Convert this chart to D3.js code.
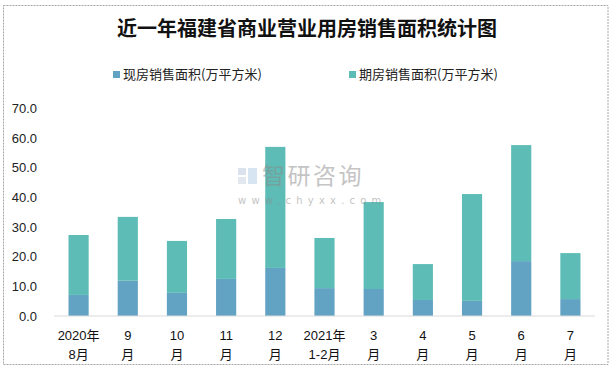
<!DOCTYPE html>
<html><head><meta charset="utf-8">
<script src="https://cdn.jsdelivr.net/npm/d3@7"></script>
<style>html,body{margin:0;padding:0;background:#fff;}svg{display:block;}</style>
</head><body>
<script>
const categories = ["2020年|8月","9|月","10|月","11|月","12|月","2021年|1-2月","3|月","4|月","5|月","6|月","7|月"];
const spotSales = [7.1, 11.9, 7.8, 12.5, 16.2, 9.4, 9.1, 5.4, 5.1, 18.5, 5.7];
const futureSales = [20.2, 21.5, 17.5, 20.2, 40.8, 16.9, 29.3, 12.1, 36.0, 39.1, 15.5];
const seriesNames = ["现房销售面积(万平方米)", "期房销售面积(万平方米)"];
const yTicks = [0, 10, 20, 30, 40, 50, 60, 70];
const title = "近一年福建省商业营业用房销售面积统计图";
const colors = ["#62A3C3", "#5DBDB6"];

const W = 614, H = 370;
const svg = d3.select("body").append("svg").attr("width", W).attr("height", H);
const font = "'Noto Sans CJK SC','Noto Sans',sans-serif";

svg.append("rect").attr("x", 3.5).attr("y", 5.5).attr("width", 604.5).attr("height", 359)
  .attr("fill", "#fff").attr("stroke", "#a6a6a6").attr("stroke-dasharray", "2,1");

svg.append("text").attr("x", 307).attr("y", 36).attr("text-anchor", "middle")
  .attr("font-family", "'Noto Sans CJK SC',serif").attr("font-weight", "bold")
  .attr("font-size", 20).attr("fill", "#111").text(title);

const x = d3.scaleBand().domain(categories).range([54, 595]).paddingInner(0.59).paddingOuter(0.295);
const y = d3.scaleLinear().domain([0, 70]).range([316, 108.3]);

const data = categories.map((c, i) => ({cat: c, spot: spotSales[i], future: futureSales[i]}));
const stack = d3.stack().keys(["spot", "future"])(data);

const g = svg.append("g");
g.selectAll("g.s").data(stack).join("g").attr("fill", (d, i) => colors[i])
  .selectAll("rect").data(d => d).join("rect")
  .attr("x", d => x(d.data.cat)).attr("width", x.bandwidth())
  .attr("y", d => y(d[1])).attr("height", d => y(d[0]) - y(d[1]));

// y axis labels
const yAxis = d3.axisLeft(y).tickValues(yTicks).tickFormat(d3.format(".1f")).tickSize(0).tickPadding(0);
const ya = svg.append("g").attr("transform", "translate(37,0)").call(yAxis);
ya.select(".domain").remove();
ya.selectAll("text").attr("font-family", "'Liberation Sans',Arial,sans-serif").attr("font-size", 13).attr("fill", "#222");

// x axis
svg.append("line").attr("x1", 54).attr("x2", 595).attr("y1", y(0)).attr("y2", y(0))
  .attr("stroke", "#d9d9d9").attr("stroke-width", 1);
const xa = svg.append("g");
categories.forEach(c => {
  const parts = c.split("|");
  const t = xa.append("text").attr("x", x(c) + x.bandwidth() / 2).attr("text-anchor", "middle")
    .attr("font-family", "'Liberation Sans',Arial,'Noto Sans CJK SC',sans-serif").attr("font-size", 13).attr("fill", "#111");
  t.append("tspan").attr("x", x(c) + x.bandwidth() / 2).attr("y", 340).text(parts[0]);
  t.append("tspan").attr("x", x(c) + x.bandwidth() / 2).attr("y", 359).text(parts[1]);
});

// legend
const legendX = [113, 349];
seriesNames.forEach((n, i) => {
  svg.append("rect").attr("x", legendX[i]).attr("y", 71).attr("width", 7).attr("height", 7).attr("fill", colors[i]);
  svg.append("text").attr("x", legendX[i] + 10).attr("y", 79).attr("font-family", font)
    .attr("font-size", 13).attr("fill", "#222").text(n);
});

// watermark
const wm = svg.append("g").attr("opacity", 0.5);
wm.append("rect").attr("x", 238).attr("y", 168).attr("width", 8).attr("height", 7).attr("fill", "#b8c4dc");
wm.append("rect").attr("x", 248).attr("y", 168).attr("width", 9).attr("height", 16).attr("fill", "#b0cde8");
wm.append("rect").attr("x", 238).attr("y", 177).attr("width", 8).attr("height", 7).attr("fill", "#c8d0e0");
wm.append("text").attr("x", 262).attr("y", 184).attr("font-family", font).attr("font-size", 23)
  .attr("fill", "#8a8a8a").attr("letter-spacing", 2.5).text("智研咨询");
wm.append("text").attr("x", 238).attr("y", 204).attr("font-family", "'DejaVu Sans',sans-serif").attr("font-size", 10)
  .attr("fill", "#8a8a8a").attr("letter-spacing", 5.2).text("www.chyxx.com");
</script>
</body></html>
